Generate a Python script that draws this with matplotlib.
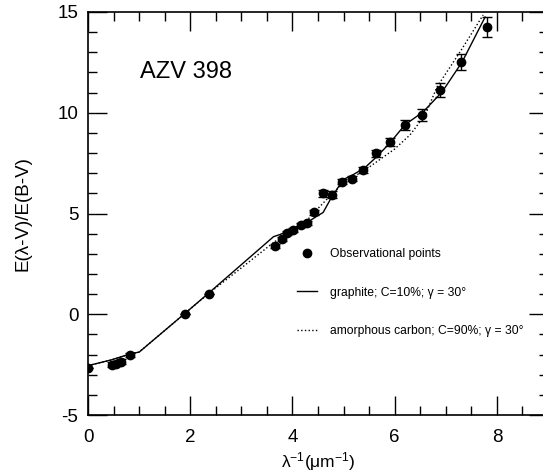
import matplotlib
matplotlib.use('Agg')
import matplotlib.pyplot as plt
from matplotlib.ticker import MultipleLocator
from matplotlib.lines import Line2D

plt.rcParams['font.family'] = ['Liberation Sans', 'DejaVu Sans']
plt.rcParams['mathtext.fontset'] = 'custom'
plt.rcParams['mathtext.rm'] = 'Liberation Sans'
plt.rcParams['mathtext.default'] = 'regular'
plt.rcParams['axes.unicode_minus'] = False

# observational points (lambda^-1, E(l-V)/E(B-V), error)
obs_x = [0.0, 0.47, 0.55, 0.64, 0.82, 1.90, 2.36, 3.65, 3.79, 3.89, 4.01, 4.16, 4.28,
         4.43, 4.60, 4.77, 4.96, 5.17, 5.38, 5.64, 5.91, 6.20, 6.53, 6.89, 7.30, 7.80]
obs_y = [-2.67, -2.50, -2.45, -2.35, -2.0, 0.0, 1.0, 3.40, 3.73, 4.03, 4.18, 4.44, 4.51,
         5.06, 6.0, 5.94, 6.58, 6.72, 7.16, 7.99, 8.57, 9.40, 9.87, 11.14, 12.52, 14.26]
obs_err = [0.0, 0.12, 0.12, 0.12, 0.1, 0.0, 0.0, 0.1, 0.1, 0.1, 0.1, 0.1, 0.1,
           0.12, 0.18, 0.18, 0.12, 0.12, 0.15, 0.18, 0.2, 0.25, 0.3, 0.35, 0.42, 0.5]

# model: graphite, C=10%
graphite_x = [0.0, 0.45, 0.85, 1.0, 1.9, 2.37, 3.63, 3.76, 4.01, 4.29, 4.45, 4.6,
              4.74, 4.99, 5.19, 5.42, 5.65, 5.91, 6.2, 6.56, 6.93, 7.32, 7.77]
graphite_y = [-2.55, -2.27, -1.95, -1.88, 0.05, 1.07, 3.85, 3.96, 4.26, 4.56, 4.82, 5.05,
              5.69, 6.68, 6.93, 7.28, 7.82, 8.51, 9.4, 10.05, 11.04, 12.52, 14.75]

# model: amorphous carbon, C=90%
amorph_x = [0.0, 0.45, 0.85, 1.0, 1.9, 2.37, 3.0, 3.63, 3.8, 4.0, 4.3, 4.48, 4.8,
            5.0, 5.5, 6.0, 6.3, 6.6, 6.83, 7.3, 7.73]
amorph_y = [-2.55, -2.27, -1.95, -1.88, 0.05, 1.05, 2.3, 3.56, 3.85, 4.2, 4.7, 5.2, 6.04,
            6.5, 7.3, 8.2, 8.9, 9.9, 11.29, 13.1, 14.85]

fig = plt.figure(figsize=(5.43, 4.76), dpi=100)
ax = fig.add_axes([88 / 543, 61 / 476, 460 / 543, 403 / 476])

ax.plot(graphite_x, graphite_y, color='black', lw=1.0)
ax.plot(amorph_x, amorph_y, color='black', lw=1.0, ls=':')
ax.errorbar(obs_x, obs_y, yerr=obs_err, fmt='o', color='black', ms=6,
            elinewidth=1.0, capsize=3.5, capthick=1.0)

ax.set_xlim(0, 9)
ax.set_ylim(-5, 15)
ax.xaxis.set_major_locator(MultipleLocator(2))
ax.xaxis.set_minor_locator(MultipleLocator(0.5))
ax.yaxis.set_major_locator(MultipleLocator(5))
ax.yaxis.set_minor_locator(MultipleLocator(1))
ax.tick_params(which='both', direction='in', top=True, right=True, width=1.0,
               labelsize=13.5)
ax.tick_params(which='major', length=14)
ax.tick_params(which='minor', length=6.5)
ax.tick_params(axis='x', which='major', pad=10)
ax.tick_params(axis='y', which='major', pad=7)
for s in ax.spines.values():
    s.set_linewidth(1.2)

ax.set_xlabel(r'$\lambda^{-1}(\mu m^{-1})$', fontsize=12.5, labelpad=3)
ax.set_ylabel('E(λ-V)/E(B-V)', fontsize=13.5, labelpad=19)

ax.text(1.02, 12.0, 'AZV 398', fontsize=17, va='center', ha='left')

handles = [
    Line2D([], [], marker='o', color='black', ls='none', ms=6),
    Line2D([], [], color='black', lw=1.0),
    Line2D([], [], color='black', lw=1.0, ls=':'),
]
labels = ['Observational points',
          'graphite; C=10%; γ = 30°',
          'amorphous carbon; C=90%; γ = 30°']
ax.legend(handles, labels, loc='upper left', bbox_to_anchor=(297 / 543, 1 - 248 / 476),
          bbox_transform=fig.transFigure, frameon=False, fontsize=8.7,
          borderpad=0, borderaxespad=0, handlelength=1.65, handletextpad=1.1,
          labelspacing=2.2)

fig.savefig('out.png', dpi=100)
